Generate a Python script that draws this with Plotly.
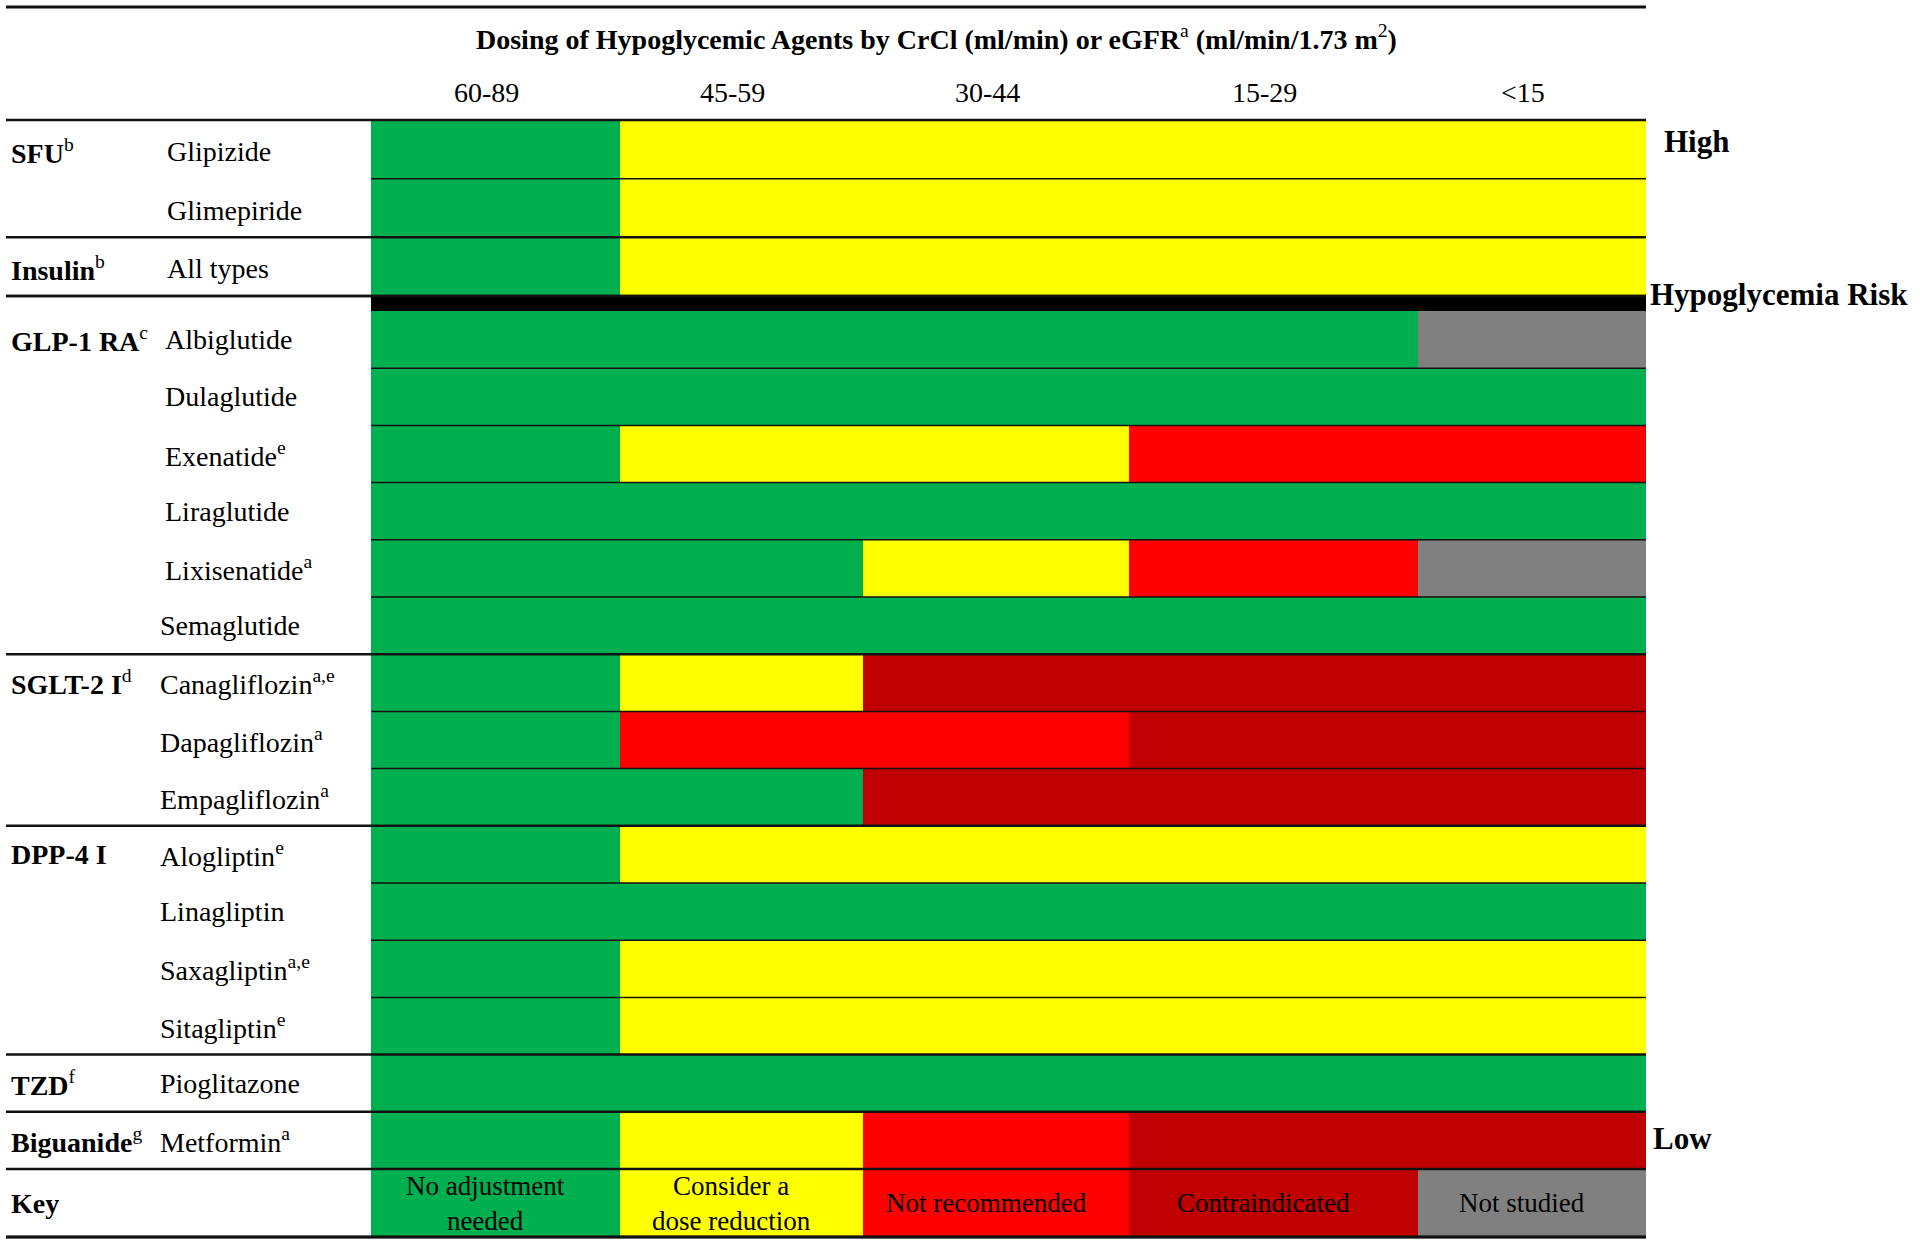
import plotly.graph_objects as go

# codes: 0 no adjustment, 1 dose reduction, 2 not recommended, 3 contraindicated, 4 not studied
columns = ["60-89", "45-59", "30-44", "15-29", "<15"]
groups = [("SFU", "b"), None, ("Insulin", "b"),
          ("GLP-1 RA", "c"), None, None, None, None, None,
          ("SGLT-2 I", "d"), None, None,
          ("DPP-4 I", ""), None, None, None,
          ("TZD", "f"), ("Biguanide", "g"), ("Key", "")]
drugs = ["Glipizide", "Glimepiride", "All types",
         "Albiglutide", "Dulaglutide", "Exenatide<sup>e</sup>", "Liraglutide",
         "Lixisenatide<sup>a</sup>", "Semaglutide",
         "Canagliflozin<sup>a,e</sup>", "Dapagliflozin<sup>a</sup>", "Empagliflozin<sup>a</sup>",
         "Alogliptin<sup>e</sup>", "Linagliptin", "Saxagliptin<sup>a,e</sup>", "Sitagliptin<sup>e</sup>",
         "Pioglitazone", "Metformin<sup>a</sup>", ""]
dosing = [
    [0, 1, 1, 1, 1],
    [0, 1, 1, 1, 1],
    [0, 1, 1, 1, 1],
    [0, 0, 0, 0, 4],
    [0, 0, 0, 0, 0],
    [0, 1, 1, 2, 2],
    [0, 0, 0, 0, 0],
    [0, 0, 1, 2, 4],
    [0, 0, 0, 0, 0],
    [0, 1, 3, 3, 3],
    [0, 2, 2, 3, 3],
    [0, 0, 3, 3, 3],
    [0, 1, 1, 1, 1],
    [0, 0, 0, 0, 0],
    [0, 1, 1, 1, 1],
    [0, 1, 1, 1, 1],
    [0, 0, 0, 0, 0],
    [0, 1, 2, 3, 3],
    [0, 1, 2, 3, 4],
]
key_labels = ["No adjustment<br>needed", "Consider a<br>dose reduction",
              "Not recommended", "Contraindicated", "Not studied"]
colors = ["#00B050", "#FFFF00", "#FF0000", "#C00000", "#808080"]

FONT = "Liberation Serif, Times New Roman, serif"
W, H = 1920, 1245

# layout in pixel coordinates
col_edges = [371, 620, 863, 1129, 1418, 1646]
row_edges = [120 + i * 58.67 for i in range(4)]                  # high-risk rows
row_edges += [row_edges[-1] + 15 + i * 57.2 for i in range(16)]  # after divider
row_edges += [row_edges[-1] + 68]                                # key row
name_x = [165, 165, 165, 163, 163, 163, 163, 163, 158] + [158] * 10

# empty row where the black divider goes
z = dosing[:3] + [[None] * 5] + dosing[3:]
cells = [(row_edges[i], row_edges[i + 1]) for i in range(len(row_edges) - 1)]
cells = cells[:3] + cells[4:]
row_mid = [(a + b) / 2 for a, b in cells]
col_mid = [(col_edges[i] + col_edges[i + 1]) / 2 for i in range(5)]

cs = [[i / 4, c] for i, c in enumerate(colors)]
fig = go.Figure(go.Heatmap(
    z=z, x=col_edges, y=row_edges, zmin=0, zmax=4,
    colorscale=cs, showscale=False, hoverinfo="skip"
))

shapes = [dict(type="rect", x0=col_edges[0], x1=col_edges[-1], y0=row_edges[3], y1=row_edges[4],
               fillcolor="black", line_width=0)]
group_starts = [i for i, g in enumerate(groups) if g] + [len(groups)]
for k, (a, b) in enumerate(cells):
    if k + 1 in group_starts:
        x0, w = 6, 2.5
    else:
        x0, w = col_edges[0], 1.5
    shapes.append(dict(type="line", x0=x0, x1=col_edges[-1], y0=b, y1=b,
                       line=dict(color="#111", width=w)))
for yy, w in [(7, 3), (row_edges[0], 2.5), (row_edges[3], 2.5), (cells[-1][1], 3)]:
    shapes.append(dict(type="line", x0=6, x1=col_edges[-1], y0=yy, y1=yy,
                       line=dict(color="#111", width=w)))

ann = [dict(x=936, y=37, font=dict(size=28), xanchor="center",
            text="<b>Dosing of Hypoglycemic Agents by CrCl (ml/min) or eGFR</b><sup>a</sup>"
                 "<b> (ml/min/1.73 m</b><sup>2</sup><b>)</b>")]
for c, xm in zip(columns, col_mid):
    ann.append(dict(x=xm - 9, y=92, text=c, font=dict(size=28), xanchor="center"))
for k, (g, d, ym) in enumerate(zip(groups, drugs, row_mid)):
    dy = 2 if k < 3 else 0
    if g:
        txt = "<b>%s</b>" % g[0] + ("<sup>%s</sup>" % g[1] if g[1] else "")
        ann.append(dict(x=9, y=ym + dy, text=txt, font=dict(size=28), xanchor="left"))
    if d:
        ann.append(dict(x=name_x[k], y=ym + dy, text=d, font=dict(size=28), xanchor="left"))
for t, xm in zip(key_labels, col_mid):
    ann.append(dict(x=xm - 10, y=row_mid[-1], text=t, font=dict(size=27), xanchor="center"))
ann.append(dict(x=1662, y=141, text="<b>High</b>", font=dict(size=31), xanchor="left"))
ann.append(dict(x=1648, y=294, text="<b>Hypoglycemia Risk</b>", font=dict(size=31), xanchor="left"))
ann.append(dict(x=1651, y=1138, text="<b>Low</b>", font=dict(size=31), xanchor="left"))
for a in ann:
    a.update(xref="x", yref="y", showarrow=False, yanchor="middle")

fig.update_layout(
    width=W, height=H, margin=dict(l=0, r=0, t=0, b=0),
    paper_bgcolor="white", plot_bgcolor="white",
    font=dict(family=FONT, color="black"),
    xaxis=dict(range=[0, W], visible=False, fixedrange=True),
    yaxis=dict(range=[H, 0], visible=False, fixedrange=True),
    shapes=shapes, annotations=ann, showlegend=False
)
fig.write_html("out.html", config={"displayModeBar": False},
               post_script="document.body.style.margin='0';")
